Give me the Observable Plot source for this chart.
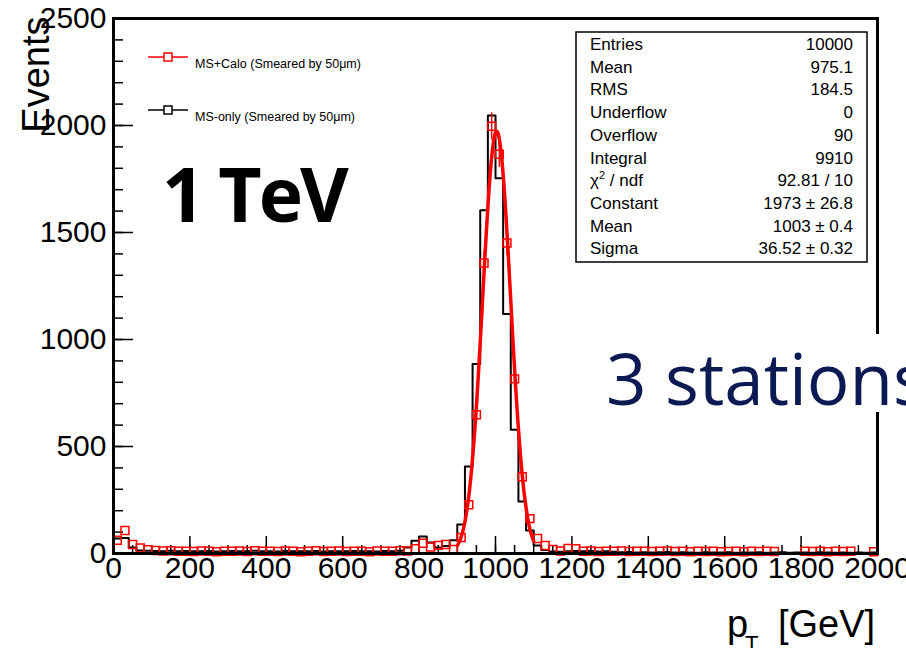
<!DOCTYPE html>
<html><head><meta charset="utf-8">
<script src="https://cdn.jsdelivr.net/npm/d3@7"></script>
<script src="https://cdn.jsdelivr.net/npm/@observablehq/plot@0.6"></script>
<style>
html,body{margin:0;padding:0;background:#fff;overflow:hidden;}
#chart{width:906px;height:648px;overflow:hidden;}
</style></head><body><div id="chart"></div>
<script>
// ---- data (20 GeV bins, 0–2000 GeV) ----
const binWidth = 20;
const binLowEdges = d3.range(0, 2000, binWidth);
const msOnly = [70,72,28,14,13,12,11,13,10,12,
 11,10,12,9,11,12,10,11,13,10,
 11,9,12,10,11,10,12,9,11,10,
 11,12,10,11,9,12,11,13,28,60,
 79,51,28,35,62,135,406,886,1604,2047,
 1754,1119,578,243,107,37,16,9,8,10,
 12,10,12,9,11,8,6,7,5,6,
 5,6,7,5,6,5,4,6,5,5,
 6,4,5,5,6,4,5,6,4,5,
 5,4,6,5,4,5,4,5,4,5];
const msCalo = [62,108,42,26,18,14,12,13,10,11,
 9,12,10,8,11,10,12,9,13,10,
 11,9,12,10,8,11,13,9,10,12,
 9,11,10,8,12,10,11,13,12,22,
 48,30,38,42,19,75,228,648,1357,1996,
 1866,1451,816,359,163,70,37,19,12,24,
 22,10,12,9,11,10,12,9,10,11,
 9,10,12,9,10,8,11,9,10,8,
 9,10,8,11,9,10,9,0,0,0,
 10,9,11,8,10,9,10,0,0,8];
// Gaussian fit parameters (from stats box)
const fitConstant = 1973, fitMean = 1003, fitSigma = 36.52;
const fitRange = [900, 1100];
// ticks
const yMajorTicks = [0, 500, 1000, 1500, 2000, 2500];
const yMinorTicks = d3.range(0, 2501, 100);
const xMajorTicks = [0, 200, 400, 600, 800, 1000, 1200, 1400, 1600, 1800, 2000];
const xMinorTicks = d3.range(0, 2001, 50);
// texts
const statsLabels = ["Entries","Mean","RMS","Underflow","Overflow","Integral","χ2 / ndf","Constant","Mean","Sigma"];
const statsValues = ["10000","975.1","184.5","0","90","9910","92.81 / 10","1973 ± 26.8","1003 ± 0.4","36.52 ± 0.32"];
const legendLabels = ["MS+Calo (Smeared by 50μm)", "MS-only (Smeared by 50μm)"];
const legendColors = ["#ff0000", "#000000"];
const energyLabel = "1 TeV";
const stationsLabel = "3 stations";
const yTitle = "Events";

// ---- derived tables ----
const blackSteps = binLowEdges.map((x, i) => ({x, y: msOnly[i]}));
blackSteps.push({x: 2000, y: msOnly[msOnly.length - 1]});
const redBins = binLowEdges.map((x, i) => ({lo: x, hi: x + binWidth, mid: x + binWidth / 2, v: msCalo[i], e: Math.sqrt(msCalo[i])})).filter(d => d.v > 0);
const fitPts = d3.range(fitRange[0], fitRange[1] + 0.5, 1).map(x => ({x, y: fitConstant * Math.exp(-0.5 * ((x - fitMean) / fitSigma) ** 2)}));

const FONT = "'Liberation Sans', Arial, Helvetica, sans-serif";
const red = "#ff0000";
const fmt = d => String(d);
const half = 4; // half marker size in px: error bars stop at the marker edge

const svg = Plot.plot({
  width: 906, height: 648,
  marginLeft: 113, marginRight: 29, marginTop: 18, marginBottom: 95,
  style: {fontFamily: FONT, fontSize: "30px", color: "#000", background: "#fff", overflow: "hidden"},
  x: {domain: [0, 2000]},
  y: {domain: [0, 2500]},
  marks: [
    Plot.axisY(yMinorTicks, {tickSize: -10, tickFormat: () => "", label: null, strokeWidth: 1.5}),
    Plot.axisY(yMajorTicks, {tickSize: -20, tickPadding: 27, tickFormat: fmt, label: null, strokeWidth: 1.5, fontSize: 30}),
    Plot.axisX(xMinorTicks, {tickSize: -8, tickFormat: () => "", label: null, strokeWidth: 1.5}),
    Plot.axisX(xMajorTicks, {tickSize: -17, tickPadding: 20, tickFormat: fmt, label: null, strokeWidth: 1.5, fontSize: 30}),
    Plot.line(blackSteps, {x: "x", y: "y", curve: "step-after", stroke: "#000", strokeWidth: 2}),
    Plot.ruleY(redBins, {y: "v", x1: "lo", x2: "mid", insetRight: half, stroke: red, strokeWidth: 1.5}),
    Plot.ruleY(redBins, {y: "v", x1: "mid", x2: "hi", insetLeft: half, stroke: red, strokeWidth: 1.5}),
    Plot.ruleX(redBins.filter(d => d.v > 400), {x: "mid", y1: d => d.v, y2: d => d.v + d.e, insetBottom: half, stroke: red, strokeWidth: 1.5}),
    Plot.ruleX(redBins.filter(d => d.v > 400), {x: "mid", y1: d => d.v - d.e, y2: d => d.v, insetTop: half, stroke: red, strokeWidth: 1.5}),
    Plot.dot(redBins, {x: "mid", y: "v", symbol: "square", r: 4.5, stroke: red, strokeWidth: 1.5, fill: "none"}),
    Plot.line(fitPts, {x: "x", y: "y", stroke: red, strokeWidth: 3.5}),
    Plot.frame({stroke: "#000", strokeWidth: 3}),
    Plot.text([yTitle], {frameAnchor: "top-left", text: d => d, rotate: -90, textAnchor: "end", lineAnchor: "bottom", dx: -65, dy: -2, fontSize: 38, fill: "#000"})
  ]
});
document.getElementById("chart").appendChild(svg);

const s = d3.select(svg);
const txt = (sel) => sel.append("text").attr("text-anchor", "start").attr("font-family", FONT).attr("fill", "#000");
// legend
legendLabels.forEach((lab, i) => {
  const cy = 57 + i * 53;
  const g = s.append("g");
  g.append("line").attr("x1", 148).attr("x2", 188).attr("y1", cy).attr("y2", cy).attr("stroke", legendColors[i]).attr("stroke-width", 1.5);
  g.append("rect").attr("x", 164).attr("y", cy - 4).attr("width", 8).attr("height", 8).attr("fill", "#fff").attr("stroke", legendColors[i]).attr("stroke-width", 1.5);
  txt(g).attr("x", 195).attr("y", cy + 11).attr("font-size", 12.5).text(lab);
});
// 1 TeV
txt(s).attr("x", 162).attr("y", 222).attr("font-family", "'Open Sans', 'Noto Sans', sans-serif")
  .attr("font-weight", 700).attr("font-size", 75).attr("letter-spacing", -3).text(energyLabel);
// stats box
const sb = s.append("g");
sb.append("rect").attr("x", 576).attr("y", 32).attr("width", 291).attr("height", 230).attr("fill", "#fff").attr("stroke", "#000").attr("stroke-width", 1.5);
statsLabels.forEach((lab, i) => {
  const by = 50 + i * 22.7;
  const t = txt(sb).attr("x", 590).attr("y", by).attr("font-size", 17);
  if (lab.startsWith("χ2")) {
    t.append("tspan").text("χ");
    t.append("tspan").attr("font-size", 11).attr("dy", -7).text("2");
    t.append("tspan").attr("dy", 7).text(lab.slice(2));
  } else t.text(lab);
  txt(sb).attr("x", 853).attr("y", by).attr("text-anchor", "end").attr("font-size", 17).text(statsValues[i]);
});
// x title
txt(s).attr("x", 727).attr("y", 637).attr("font-size", 38).text("p");
txt(s).attr("x", 745).attr("y", 651).attr("font-size", 22).text("T");
txt(s).attr("x", 778).attr("y", 637).attr("font-size", 38).text("[GeV]");
// 3 stations overlay
s.append("rect").attr("x", 590).attr("y", 334).attr("width", 316).attr("height", 78).attr("fill", "#fff");
txt(s).attr("x", 606).attr("y", 405).attr("font-family", "'Open Sans', 'Noto Sans', sans-serif")
  .attr("font-size", 71).attr("fill", "#0b1a52").text(stationsLabel);
</script></body></html>
